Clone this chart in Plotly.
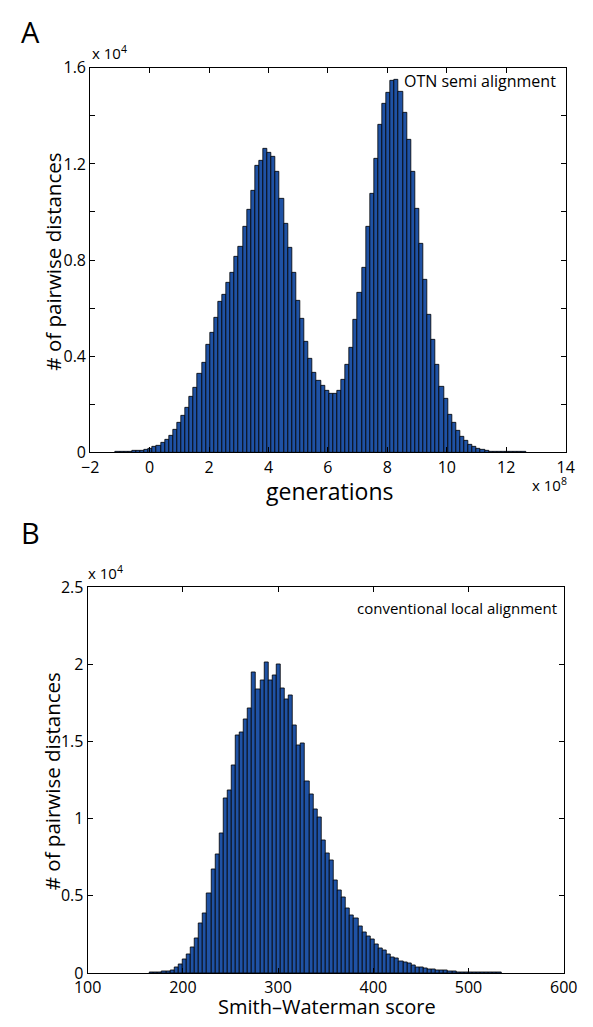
import plotly.graph_objects as go

# ---------------- data ----------------
# Panel A: OTN semi alignment, generations (x 1e8), counts (x 1e4)
gen_bin_start = -1.074
gen_bin_width = 0.138
gen_counts = [
    0.001, 0.001, 0.002, 0.003, 0.005,
    0.007, 0.008, 0.011, 0.016, 0.022, 0.027, 0.041, 0.054, 0.068, 0.095,
    0.125, 0.152, 0.185, 0.231, 0.269, 0.326, 0.372, 0.448, 0.497, 0.560,
    0.626, 0.657, 0.706, 0.746,
    0.812, 0.855, 0.937, 1.011, 1.090, 1.192, 1.213, 1.262, 1.246, 1.230,
    1.167, 1.056, 0.950, 0.852, 0.746, 0.632, 0.554, 0.459, 0.388, 0.330,
    0.296, 0.276, 0.255, 0.242, 0.244, 0.258,
    0.300, 0.364, 0.436, 0.552, 0.666, 0.767, 0.938, 1.076, 1.223, 1.364,
    1.451, 1.497, 1.545, 1.549, 1.500, 1.413, 1.300, 1.169, 1.015, 0.866,
    0.717, 0.571, 0.468, 0.364,
    0.271, 0.221, 0.156, 0.123, 0.091, 0.064, 0.048, 0.031, 0.023, 0.015,
    0.011, 0.007, 0.004, 0.003,
    0.002, 0.002, 0.001, 0.001, 0.001, 0.001, 0.001,
]

# Panel B: conventional local alignment, Smith-Waterman score, counts (x 1e4)
sw_bin_start = 167.5
sw_bin_width = 4.29
sw_counts = [
    0.001, 0.002, 0.004, 0.007, 0.011,
    0.017, 0.034, 0.055, 0.087, 0.118, 0.165, 0.224, 0.319, 0.387, 0.518,
    0.673, 0.772, 0.905, 1.131, 1.185, 1.345, 1.540, 1.557, 1.645, 1.713,
    1.946, 1.840, 1.895, 2.013, 1.895, 1.929, 2.001, 1.844,
    1.777, 1.802, 1.603, 1.476, 1.487, 1.239, 1.159, 1.060, 1.011, 0.857,
    0.774, 0.730, 0.598, 0.533, 0.493, 0.419, 0.372, 0.351, 0.305, 0.260,
    0.237, 0.216, 0.182, 0.157,
    0.146, 0.121, 0.102, 0.095, 0.074, 0.068, 0.059, 0.047, 0.038, 0.038,
    0.027, 0.025, 0.021, 0.019, 0.015, 0.015, 0.011, 0.008, 0.006, 0.006,
    0.004, 0.004,
    0.002, 0.002, 0.002, 0.001, 0.001, 0.001, 0.001,
]

gen_xticks = [-2, 0, 2, 4, 6, 8, 10, 12, 14]
gen_yticks = [0, 0.4, 0.8, 1.2, 1.6]
sw_xticks = [100, 200, 300, 400, 500, 600]
sw_yticks = [0, 0.5, 1, 1.5, 2, 2.5]

gen_centers = [gen_bin_start + i * gen_bin_width for i in range(len(gen_counts))]
sw_centers = [sw_bin_start + i * sw_bin_width for i in range(len(sw_counts))]

# ---------------- figure ----------------
W, H = 593, 1027
FONT = "Open Sans"
BAR_COLOR = "#1f52a4"

fig = go.Figure()
fig.add_trace(go.Bar(x=gen_centers, y=gen_counts, width=gen_bin_width,
                     marker=dict(color=BAR_COLOR, line=dict(color="black", width=0.8)),
                     xaxis="x", yaxis="y", showlegend=False))
fig.add_trace(go.Bar(x=sw_centers, y=sw_counts, width=sw_bin_width,
                     marker=dict(color=BAR_COLOR, line=dict(color="black", width=0.8)),
                     xaxis="x2", yaxis="y2", showlegend=False))

def px_dom(a, b, total, flip=False):
    if flip:
        return [1 - b / total, 1 - a / total]
    return [a / total, b / total]

axis_common = dict(showline=True, linecolor="black", linewidth=1, mirror="allticks",
                   ticks="inside", ticklen=5, tickcolor="black", tickwidth=1,
                   showgrid=False, zeroline=False,
                   tickfont=dict(family=FONT, size=16, color="black"))

fig.update_layout(
    width=W, height=H,
    margin=dict(l=0, r=0, t=0, b=0),
    paper_bgcolor="white", plot_bgcolor="white",
    bargap=0,
    xaxis=dict(domain=px_dom(80, 579, W), range=[-2, 14], tickvals=gen_xticks,
               anchor="y", **axis_common),
    yaxis=dict(domain=px_dom(58, 451, H, flip=True), range=[0, 1.6], tickvals=gen_yticks,
               minor=dict(dtick=0.2, ticks="inside", ticklen=5, tickcolor="black"),
               anchor="x", **axis_common),
    xaxis2=dict(domain=px_dom(77.3, 577, W), range=[100, 600], tickvals=sw_xticks,
                anchor="y2", **axis_common),
    yaxis2=dict(domain=px_dom(589, 983, H, flip=True), range=[0, 2.5], tickvals=sw_yticks,
                anchor="x2", **axis_common),
)

def ann(text, x, y, size, xanchor="center", yanchor="middle", angle=0):
    fig.add_annotation(text=text, x=x / W, y=1 - y / H, xref="paper", yref="paper",
                       xanchor=xanchor, yanchor=yanchor, showarrow=False, textangle=angle,
                       font=dict(family=FONT, size=size, color="black"))

# panel letters
ann("A", 5, 21, 29, xanchor="left")
ann("B", 5, 533, 29, xanchor="left")
# exponents
ann("x 10<sup>4</sup>", 80, 42, 15, xanchor="left")
ann("x 10<sup>8</sup>", 542, 484, 15, xanchor="left")
ann("x 10<sup>4</sup>", 76, 574, 15, xanchor="left")
# axis titles
ann("# of pairwise distances", 40, 256, 20.5, angle=-90)
ann("generations", 332, 491, 23)
ann("# of pairwise distances", 40, 787, 20.5, angle=-90)
ann("Smith\u2013Waterman score", 328, 1017, 20)
# in-plot labels
ann("OTN semi alignment", 571, 72, 16, xanchor="right")
ann("conventional local alignment", 572, 610, 15, xanchor="right")

fig.write_html("out.html")
